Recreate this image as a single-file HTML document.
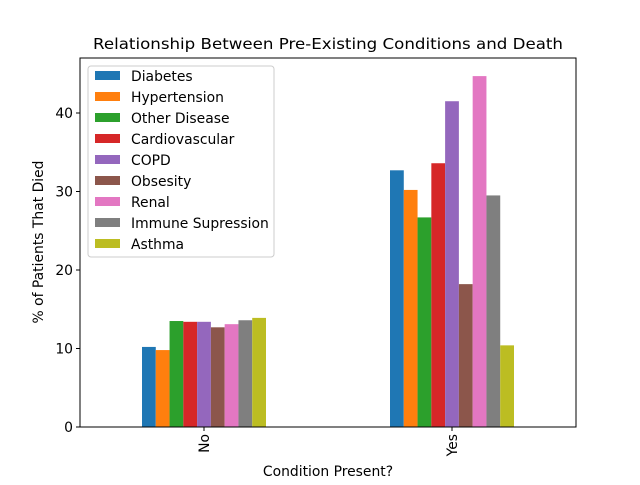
<!DOCTYPE html>
<html><head><meta charset="utf-8"><style>body{margin:0;background:#fff}svg{font-family:"DejaVu Sans","Liberation Sans",sans-serif}</style></head>
<body>
<svg id="chart" width="640" height="480" xmlns="http://www.w3.org/2000/svg">
<text x="328" y="49" font-size="15.5" text-anchor="middle" textLength="470" lengthAdjust="spacingAndGlyphs">Relationship Between Pre-Existing Conditions and Death</text>
<g id="bars"></g>
<rect x="80" y="58" width="496" height="369" fill="none" stroke="#000" stroke-width="1"/>
<g id="yaxis" font-size="13.9"></g>
<g id="xaxis" font-size="13.9"></g>
<text x="328" y="476" font-size="13.9" text-anchor="middle">Condition Present?</text>
<text transform="translate(43,242) rotate(-90)" font-size="13.9" text-anchor="middle">% of Patients That Died</text>
<g id="legend"></g>
</svg>
<script>
const categories = ["No","Yes"];
const seriesNames = ["Diabetes","Hypertension","Other Disease","Cardiovascular","COPD","Obsesity","Renal","Immune Supression","Asthma"];
const seriesNo = [10.2,9.8,13.5,13.4,13.4,12.7,13.1,13.6,13.9];
const seriesYes = [32.7,30.2,26.7,33.6,41.5,18.2,44.7,29.5,10.4];
const yTicks = [0,10,20,30,40];
const colors = ["#1f77b4","#ff7f0e","#2ca02c","#d62728","#9467bd","#8c564b","#e377c2","#7f7f7f","#bcbd22"];
const NS="http://www.w3.org/2000/svg";
const L=80,R=576,T=58,B=427;
const y=v=>B-v*7.85;
const x=v=>L+(v+0.5)*(R-L)/2;
const bw=0.5/seriesNames.length;
const vals=[seriesNo,seriesYes];
const bars=document.getElementById('bars');
function mk(tag,attrs,parent){const e=document.createElementNS(NS,tag);for(const k in attrs)e.setAttribute(k,attrs[k]);parent.appendChild(e);return e;}
categories.forEach((c,ci)=>{
  seriesNames.forEach((s,si)=>{
    const v=vals[ci][si];
    const x0=x(ci-0.25+si*bw), x1=x(ci-0.25+(si+1)*bw);
    const r=mk('rect',{x:x0,y:y(v),width:x1-x0,height:B-y(v),fill:colors[si]},bars);
    
    
  });
});
const ya=document.getElementById('yaxis');
yTicks.forEach(t=>{
  const l=mk('line',{x1:L-4,x2:L,y1:y(t),y2:y(t),stroke:'#000'},ya);
  
  
  const tx=mk('text',{x:L-7,y:y(t)+5,'text-anchor':'end'},ya);
  tx.textContent=t;
  
  
});
const xa=document.getElementById('xaxis');
categories.forEach((c,ci)=>{
  const l=mk('line',{x1:x(ci),x2:x(ci),y1:B,y2:B+4,stroke:'#000'},xa);
  
  
  const tx=mk('text',{transform:`translate(${x(ci)+5},${B+7}) rotate(-90)`,'text-anchor':'end'},xa);
  tx.textContent=c;
  
  
});
const lg=document.getElementById('legend');
const box=mk('rect',{x:88,y:66,width:186,height:191,rx:3,fill:'#fff','fill-opacity':0.8,stroke:'#ccc'},lg);


seriesNames.forEach((s,i)=>{
  const yy=76+i*21;
  const p=mk('rect',{x:95,y:yy-5,width:25,height:9,fill:colors[i]},lg);
  
  
  const t=mk('text',{x:131,y:yy+5,'font-size':13.9},lg);
  t.textContent=s;
  
  
});
</script>
</body></html>
